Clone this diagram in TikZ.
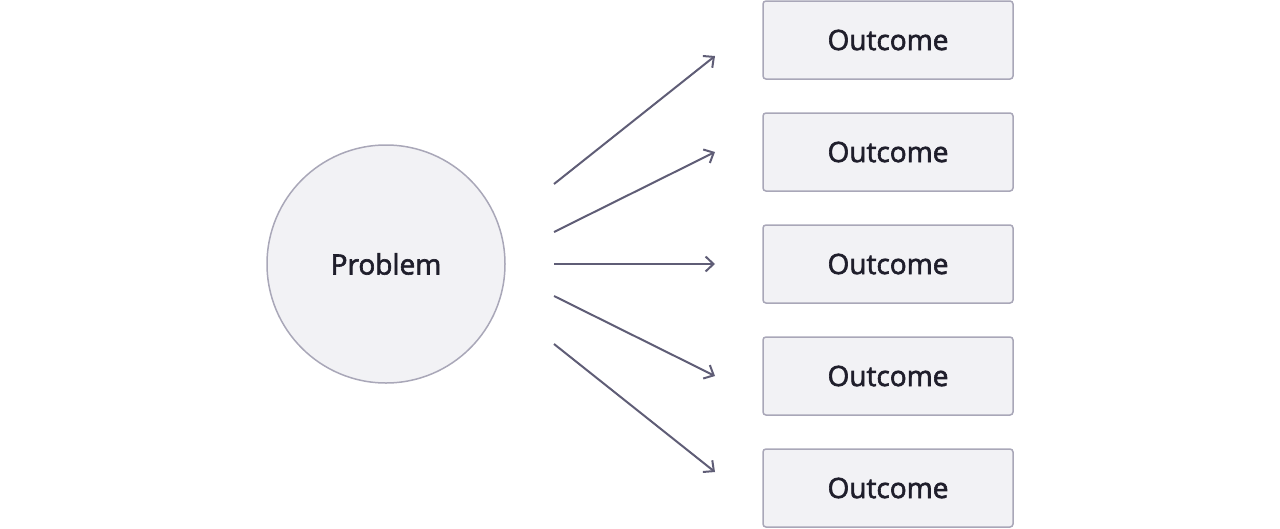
\documentclass[tikz,border=0pt]{standalone}
\usepackage{fontspec}
\setmainfont{Open Sans}[FakeBold=2.2]
\usetikzlibrary{positioning,arrows.meta}
\definecolor{paleslate}{HTML}{F2F2F5}
\definecolor{lavendergray}{HTML}{A9A7B8}
\definecolor{slateink}{HTML}{5F5D76}
\definecolor{nightink}{HTML}{1F1E2B}

\begin{document}
\begin{tikzpicture}[x=1pt, y=-1pt, node distance = 112pt, on grid, font=\fontsize{28}{33}\selectfont, text=nightink]
			 \useasboundingbox (0,0) rectangle (1280,528);
			 \node [circle, fill=paleslate, draw=lavendergray, line width=1.5pt, minimum size = 238pt, inner sep=0pt] (PROBLEM) at (386,264) {Problem};
			 \node [rectangle, rounded corners=3pt, fill=paleslate, draw=lavendergray, line width=1.5pt, minimum width = 250pt, minimum height = 78pt] (O3) at (888,264) {Outcome};
			 \node [rectangle, rounded corners=3pt, fill=paleslate, draw=lavendergray, line width=1.5pt, minimum width = 250pt, minimum height = 78pt] (O2) [above =of O3] {Outcome};
			 \node [rectangle, rounded corners=3pt, fill=paleslate, draw=lavendergray, line width=1.5pt, minimum width = 250pt, minimum height = 78pt] (O1) [above =of O2] {Outcome};
			 \node [rectangle, rounded corners=3pt, fill=paleslate, draw=lavendergray, line width=1.5pt, minimum width = 250pt, minimum height = 78pt] (O4) [below =of O3] {Outcome};
			 \node [rectangle, rounded corners=3pt, fill=paleslate, draw=lavendergray, line width=1.5pt, minimum width = 250pt, minimum height = 78pt] (O5) [below =of O4] {Outcome};
			 \coordinate (S1) at (554,184);
			 \coordinate (S2) at (554,232);
			 \coordinate (S3) at (554,264);
			 \coordinate (S4) at (554,296);
			 \coordinate (S5) at (554,344);
			 \coordinate (E1) at (715,56);
			 \coordinate (E2) at (715,152);
			 \coordinate (E3) at (715,264);
			 \coordinate (E4) at (715,376);
			 \coordinate (E5) at (715,472);
			 \draw [-{Straight Barb[length=8pt, width=15pt]}, slateink, line width=2pt] (S1) -- (E1);
			 \draw [-{Straight Barb[length=8pt, width=15pt]}, slateink, line width=2pt] (S2) -- (E2);
			 \draw [-{Straight Barb[length=8pt, width=15pt]}, slateink, line width=2pt] (S3) -- (E3);
			 \draw [-{Straight Barb[length=8pt, width=15pt]}, slateink, line width=2pt] (S4) -- (E4);
			 \draw [-{Straight Barb[length=8pt, width=15pt]}, slateink, line width=2pt] (S5) -- (E5);
		\end{tikzpicture}
\end{document}
